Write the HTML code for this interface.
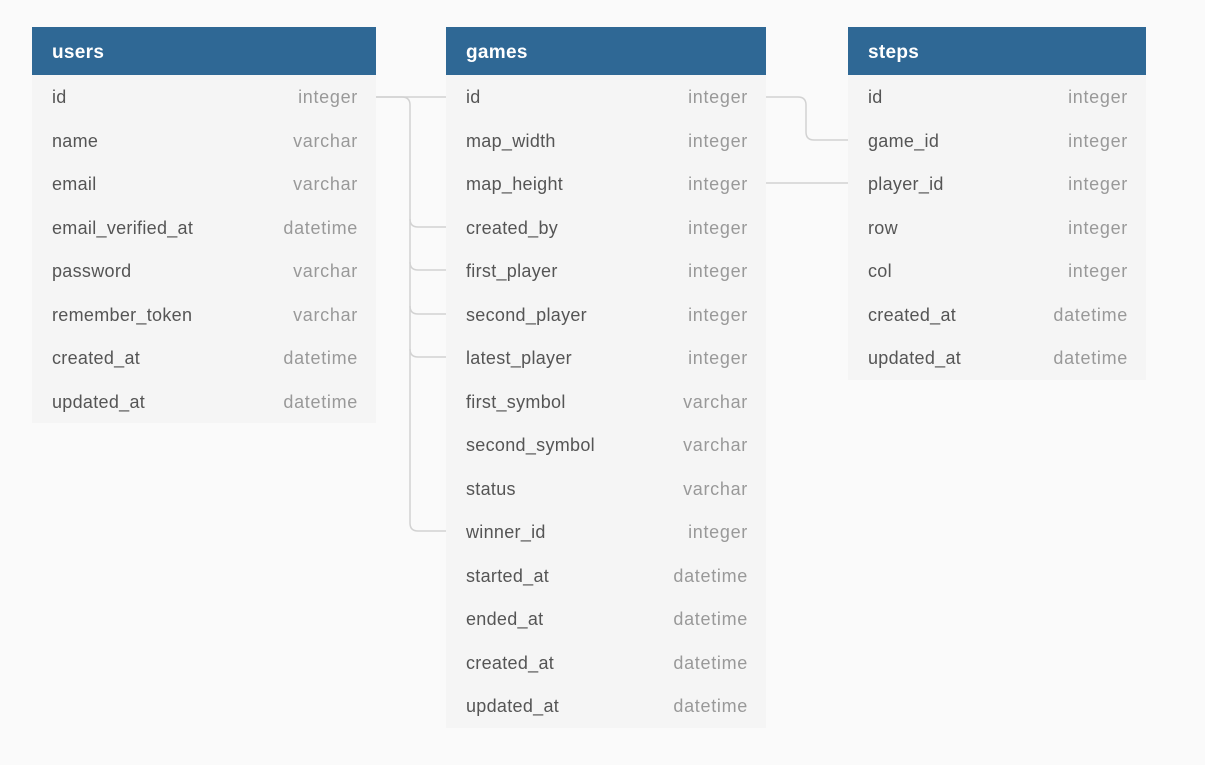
<!DOCTYPE html>
<html><head><style>
body{margin:0;width:1205px;height:765px;background:#fafafa;font-family:"Liberation Sans",sans-serif;position:relative;overflow:hidden}
.t{position:absolute;background:#f5f5f5}
.h{height:48px;background:#2f6895;color:#fff;font-weight:bold;font-size:19px;line-height:52px;padding-left:20px;letter-spacing:.3px;overflow:hidden}
.r{height:43.5px;line-height:45px;font-size:18px;color:#555;padding:0 18px 0 20px;display:flex;justify-content:space-between;letter-spacing:.3px;overflow:hidden}
.r span:last-child{color:#999;letter-spacing:.7px}
svg{position:absolute;left:0;top:0}
</style></head><body>
<svg width="1205" height="765"><g fill="none" stroke="#d2d2d2" stroke-width="1.5">
<path d="M376 97H446"/>
<path d="M376 97H402Q410 97 410 105V523Q410 531 418 531H446"/>
<path d="M410 219Q410 227 418 227H446M410 262Q410 270 418 270H446M410 306Q410 314 418 314H446M410 349Q410 357 418 357H446"/>
<path d="M766 97H798Q806 97 806 105V132Q806 140 814 140H848"/>
<path d="M766 183H848"/>
</g></svg>
<div class="t" style="left:32px;top:27px;width:344px">
<div class="h">users</div>
<div class="r"><span>id</span><span>integer</span></div>
<div class="r"><span>name</span><span>varchar</span></div>
<div class="r"><span>email</span><span>varchar</span></div>
<div class="r"><span>email_verified_at</span><span>datetime</span></div>
<div class="r"><span>password</span><span>varchar</span></div>
<div class="r"><span>remember_token</span><span>varchar</span></div>
<div class="r"><span>created_at</span><span>datetime</span></div>
<div class="r"><span>updated_at</span><span>datetime</span></div>
</div>
<div class="t" style="left:446px;top:27px;width:320px">
<div class="h">games</div>
<div class="r"><span>id</span><span>integer</span></div>
<div class="r"><span>map_width</span><span>integer</span></div>
<div class="r"><span>map_height</span><span>integer</span></div>
<div class="r"><span>created_by</span><span>integer</span></div>
<div class="r"><span>first_player</span><span>integer</span></div>
<div class="r"><span>second_player</span><span>integer</span></div>
<div class="r"><span>latest_player</span><span>integer</span></div>
<div class="r"><span>first_symbol</span><span>varchar</span></div>
<div class="r"><span>second_symbol</span><span>varchar</span></div>
<div class="r"><span>status</span><span>varchar</span></div>
<div class="r"><span>winner_id</span><span>integer</span></div>
<div class="r"><span>started_at</span><span>datetime</span></div>
<div class="r"><span>ended_at</span><span>datetime</span></div>
<div class="r"><span>created_at</span><span>datetime</span></div>
<div class="r"><span>updated_at</span><span>datetime</span></div>
</div>
<div class="t" style="left:848px;top:27px;width:298px">
<div class="h">steps</div>
<div class="r"><span>id</span><span>integer</span></div>
<div class="r"><span>game_id</span><span>integer</span></div>
<div class="r"><span>player_id</span><span>integer</span></div>
<div class="r"><span>row</span><span>integer</span></div>
<div class="r"><span>col</span><span>integer</span></div>
<div class="r"><span>created_at</span><span>datetime</span></div>
<div class="r"><span>updated_at</span><span>datetime</span></div>
</div>
</body></html>
